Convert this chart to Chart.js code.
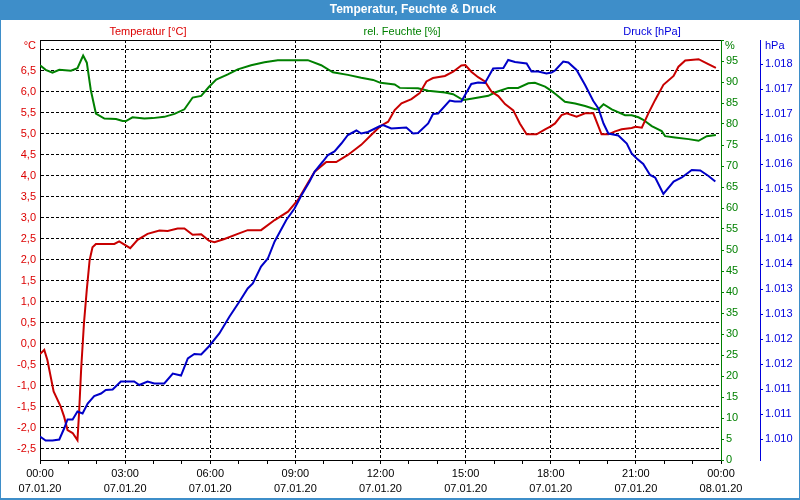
<!DOCTYPE html>
<html>
<head>
<meta charset="utf-8">
<script src="https://cdn.jsdelivr.net/npm/chart.js@4"></script>
<style>
html,body{margin:0;padding:0;background:#fff;}
canvas{display:block;}
</style>
</head>
<body>
<canvas id="c" width="800" height="500"></canvas>
<script>
// ---- data (hours since 07.01.20 00:00) ----
const tempHours = [0,0.15,0.26,0.48,0.73,0.85,0.97,1.15,1.32,1.38,1.45,1.55,1.65,1.75,1.85,1.97,2.62,2.79,3.18,3.44,3.79,4.21,4.5,4.85,5.09,5.38,5.68,5.95,6.15,6.5,6.97,7.32,7.79,8.27,8.74,9.09,9.44,9.68,10.09,10.44,10.85,11.32,11.68,12.0,12.27,12.5,12.74,13.09,13.38,13.62,13.85,14.27,14.56,14.85,14.99,15.2,15.44,15.68,15.91,16.15,16.39,16.68,16.91,17.15,17.5,17.8,18.0,18.15,18.38,18.56,18.91,19.21,19.5,19.79,20.03,20.27,20.5,20.85,20.99,21.21,21.44,21.68,21.97,22.33,22.5,22.74,23.21,23.5,23.82];
const tempValues = [-0.24,-0.14,-0.38,-1.13,-1.49,-1.73,-2.05,-2.12,-2.29,-1.6,-0.6,0.5,1.3,2.0,2.3,2.38,2.38,2.44,2.28,2.48,2.62,2.70,2.69,2.75,2.75,2.60,2.61,2.46,2.42,2.50,2.62,2.71,2.71,2.95,3.15,3.43,3.83,4.10,4.33,4.33,4.50,4.74,4.98,5.19,5.29,5.57,5.73,5.83,5.97,6.25,6.33,6.38,6.48,6.63,6.64,6.48,6.35,6.25,6.01,5.90,5.71,5.56,5.25,4.99,4.99,5.11,5.18,5.25,5.45,5.49,5.41,5.49,5.49,4.99,4.99,5.06,5.11,5.14,5.17,5.15,5.49,5.81,6.17,6.38,6.60,6.75,6.78,6.68,6.57];

const humHours = [0,0.2,0.44,0.68,1.09,1.32,1.52,1.65,1.79,1.97,2.27,2.68,2.91,3.03,3.26,3.68,3.97,4.38,4.74,5.09,5.38,5.68,5.95,6.21,6.62,6.97,7.44,7.91,8.38,8.97,9.44,9.91,10.32,10.85,11.32,11.74,12.0,12.5,12.68,13.32,13.68,14.27,14.56,14.91,15.2,15.8,16.03,16.5,16.85,17.21,17.44,17.8,18.0,18.21,18.5,18.86,19.21,19.56,19.68,19.86,20.15,20.62,20.85,21.09,21.26,21.56,21.91,22.03,22.38,22.86,23.21,23.5,23.82];
const humValues = [94.0,92.9,92.2,92.9,92.7,93.3,96.3,94.6,88.1,82.5,81.3,81.2,80.7,80.7,81.6,81.3,81.4,81.7,82.4,83.5,86.3,86.7,88.8,90.6,91.8,93.0,94.0,94.7,95.2,95.2,95.2,94.0,92.3,91.7,91.0,90.5,89.8,89.4,88.6,88.5,87.9,87.5,87.1,85.7,86.0,86.7,87.5,88.6,88.6,89.7,89.8,88.9,88.0,86.9,85.3,84.9,84.3,83.5,83.5,84.7,83.5,82.1,82.1,81.6,81.0,79.5,78.3,77.1,76.8,76.4,76.0,77.1,77.4];

const presHours = [0,0.2,0.44,0.68,0.85,0.97,1.15,1.32,1.5,1.68,1.91,2.15,2.32,2.56,2.85,3.32,3.5,3.79,4.03,4.38,4.68,4.97,5.21,5.44,5.68,5.95,6.32,6.68,7.03,7.32,7.5,7.79,8.03,8.27,8.68,8.97,9.21,9.5,9.68,9.97,10.15,10.38,10.62,10.85,11.15,11.32,11.56,11.95,12.09,12.38,12.91,13.15,13.32,13.68,13.85,14.03,14.44,14.62,14.85,15.2,15.44,15.68,15.97,16.33,16.5,16.74,17.15,17.32,17.56,17.85,18.03,18.15,18.44,18.62,18.91,19.21,19.5,19.68,19.86,20.03,20.38,20.68,20.85,21.03,21.26,21.5,21.68,21.97,22.33,22.62,22.97,23.27,23.56,23.8];
const presValues = [1010.05,1009.97,1009.97,1009.99,1010.21,1010.39,1010.39,1010.55,1010.51,1010.71,1010.86,1010.91,1010.98,1010.99,1011.15,1011.15,1011.08,1011.15,1011.11,1011.11,1011.31,1011.27,1011.61,1011.70,1011.69,1011.85,1012.11,1012.45,1012.75,1013.01,1013.11,1013.45,1013.61,1013.95,1014.38,1014.61,1014.87,1015.15,1015.35,1015.55,1015.68,1015.75,1015.91,1016.08,1016.17,1016.11,1016.14,1016.25,1016.28,1016.21,1016.23,1016.11,1016.12,1016.31,1016.50,1016.51,1016.77,1016.75,1016.75,1017.10,1017.13,1017.12,1017.41,1017.42,1017.58,1017.54,1017.51,1017.35,1017.35,1017.31,1017.33,1017.37,1017.55,1017.53,1017.38,1017.08,1016.76,1016.61,1016.31,1016.11,1016.07,1015.91,1015.71,1015.61,1015.50,1015.28,1015.23,1014.90,1015.15,1015.23,1015.38,1015.37,1015.26,1015.15];

// x tick labels (every 3 hours)
const tickTimes = ['00:00','03:00','06:00','09:00','12:00','15:00','18:00','21:00','00:00'];
const tickDates = ['07.01.20','07.01.20','07.01.20','07.01.20','07.01.20','07.01.20','07.01.20','07.01.20','08.01.20'];

const chartTitle = 'Temperatur, Feuchte & Druck';
const seriesNames = ['Temperatur [°C]','rel. Feuchte [%]','Druck [hPa]'];
const unitNames = ['°C','%','hPa'];

// ---- styling ----
const RED_LINE = '#c80000', RED_TXT = '#dc0000';
const GREEN = '#008000';
const BLUE_LINE = '#0000c8', BLUE_TXT = '#0000dd';
const FRAME = '#3e8ec9';
const FONT = "'Liberation Sans', Arial, sans-serif";

function pts(xs, ys){ return xs.map((x,i)=>({x:x,y:ys[i]})); }

const framePlugin = {
  id: 'frame',
  beforeDraw(chart){
    const ctx = chart.ctx;
    ctx.save();
    ctx.fillStyle = '#fff';
    ctx.fillRect(0,0,800,500);
    ctx.fillStyle = FRAME;
    ctx.fillRect(0,0,800,20);
    ctx.fillRect(0,0,1,500);
    ctx.fillRect(799,0,1,500);
    ctx.fillRect(0,498,800,2);
    ctx.restore();
  },
  afterDraw(chart){
    const ctx = chart.ctx, a = chart.chartArea;
    ctx.save();
    ctx.strokeStyle = '#000'; ctx.lineWidth = 1;
    ctx.beginPath(); ctx.moveTo(a.left, a.top+0.5); ctx.lineTo(a.right, a.top+0.5); ctx.stroke();
    ctx.fillStyle = '#fff';
    ctx.font = 'bold 12px ' + FONT;
    ctx.textAlign = 'center'; ctx.textBaseline = 'middle';
    ctx.fillText(chartTitle, 413, 10);
    ctx.font = '11px ' + FONT;
    ctx.fillStyle = RED_TXT; ctx.fillText(seriesNames[0], 148, 32);
    ctx.fillStyle = GREEN; ctx.fillText(seriesNames[1], 402, 32);
    ctx.fillStyle = BLUE_TXT; ctx.fillText(seriesNames[2], 652, 32);
    ctx.textAlign = 'right'; ctx.fillStyle = RED_TXT; ctx.fillText(unitNames[0], 36, 46);
    ctx.textAlign = 'left'; ctx.fillStyle = GREEN; ctx.fillText(unitNames[1], 725, 46);
    ctx.fillStyle = BLUE_TXT; ctx.fillText(unitNames[2], 765, 46);
    ctx.restore();
  }
};

const tickFont = {family: FONT, size: 11};

new Chart(document.getElementById('c'), {
  type: 'line',
  data: {
    datasets: [
      {label: seriesNames[2], data: pts(presHours, presValues), yAxisID: 'yP', borderColor: BLUE_LINE, borderWidth: 2, pointRadius: 0, tension: 0, fill: false},
      {label: seriesNames[0], data: pts(tempHours, tempValues), yAxisID: 'yT', borderColor: RED_LINE, borderWidth: 2, pointRadius: 0, tension: 0, fill: false},
      {label: seriesNames[1], data: pts(humHours, humValues), yAxisID: 'yH', borderColor: GREEN, borderWidth: 2, pointRadius: 0, tension: 0, fill: false}
    ]
  },
  options: {
    responsive: false,
    animation: false,
    events: [],
    layout: {padding: {top: 40, left: 2, right: 2, bottom: 2}},
    plugins: {legend: {display: false}, tooltip: {enabled: false}, title: {display: false}},
    scales: {
      x: {
        type: 'linear', position: 'bottom', min: 0, max: 24,
        afterFit(s){ s.height = 38; },
        ticks: {
          stepSize: 1, autoSkip: false, maxRotation: 0, minRotation: 0, padding: 3,
          color: '#000', font: {family: FONT, size: 11, lineHeight: 1.35},
          callback(v){ if (v % 3 !== 0) return ''; const i = v/3; return [tickTimes[i], tickDates[i]]; }
        },
        grid: {
          drawOnChartArea: true, drawTicks: true, tickLength: 4, tickColor: '#000', lineWidth: 1,
          color(ctx){ const v = ctx.tick ? ctx.tick.value : 0; return (v % 3 === 0 && v > 0 && v < 24) ? '#000' : 'rgba(0,0,0,0)'; }
        },
        border: {display: true, color: '#000', width: 1, dash: [3,2]}
      },
      yT: {
        type: 'linear', position: 'left', min: -2.762, max: 7.236,
        afterFit(s){ s.width = 38; },
        ticks: {
          stepSize: 0.5, includeBounds: false, padding: 4, color: RED_TXT, font: tickFont,
          callback(v){ if (Math.abs(v-7) < 1e-6) return ''; return v.toFixed(1).replace('.', ','); }
        },
        grid: {drawOnChartArea: true, drawTicks: false, color: '#000', lineWidth: 1},
        border: {display: true, color: '#000', width: 1, dash: [3,2]}
      },
      yH: {
        type: 'linear', position: 'right', min: 0, max: 100,
        afterFit(s){ s.width = 39; },
        ticks: {
          stepSize: 5, includeBounds: false, padding: 2, color: GREEN, font: tickFont,
          callback(v){ return v >= 100 ? '' : String(v); }
        },
        grid: {drawOnChartArea: false, drawTicks: true, tickLength: 3, tickColor: GREEN, color: GREEN},
        border: {display: true, color: GREEN, width: 1}
      },
      yP: {
        type: 'linear', position: 'right', min: 1009.58, max: 1017.98,
        afterFit(s){ s.width = 38; },
        ticks: {
          stepSize: 0.5, includeBounds: false, padding: 2, color: BLUE_TXT, font: tickFont,
          callback(v){ const r = Math.round(v); return Math.floor(r/1000) + '.' + String(r % 1000).padStart(3,'0'); }
        },
        grid: {drawOnChartArea: false, drawTicks: true, tickLength: 3, tickColor: BLUE_TXT, color: BLUE_TXT},
        border: {display: true, color: BLUE_TXT, width: 1}
      }
    }
  },
  plugins: [framePlugin]
});
</script>
</body>
</html>
